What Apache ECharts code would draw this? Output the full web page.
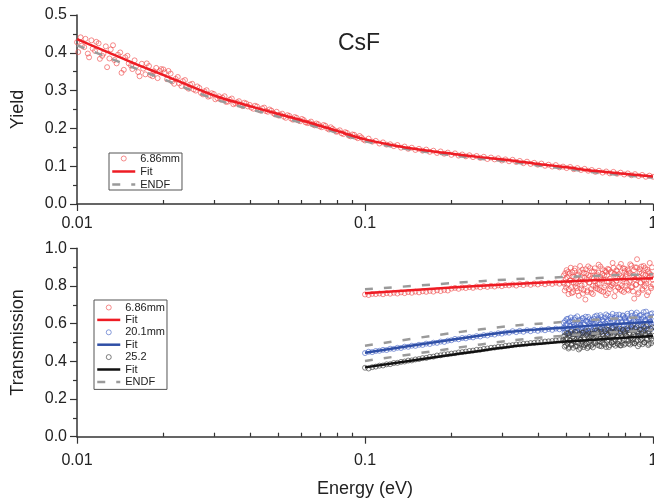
<!DOCTYPE html>
<html>
<head>
<meta charset="utf-8">
<script src="https://cdn.jsdelivr.net/npm/echarts@6/dist/echarts.min.js"></script>
<style>
  html, body { margin: 0; padding: 0; background: #fff; }
  #chart { width: 654px; height: 500px; }
</style>
</head>
<body>
<div id="chart"></div>
<script>
// ---- axis ticks ----
const energyTicks = [0.01, 0.1, 1];
const energyMinorTicks = [0.02, 0.03, 0.04, 0.05, 0.06, 0.07, 0.08, 0.09,
                          0.2, 0.3, 0.4, 0.5, 0.6, 0.7, 0.8, 0.9];

// log-spaced energy bins (n points from e0 to e1 inclusive)
function logBins(e0, e1, n) {
  const a = Math.log10(e0), b = Math.log10(e1);
  return Array.from({ length: n }, (_, i) => Math.pow(10, a + (b - a) * i / (n - 1)));
}

// ---- capture yield, 6.86 mm sample ----
const yieldEnergy = logBins(0.01, 1, 161);
const yieldMeasured = [
  0.428, 0.441, 0.415, 0.398, 0.433, 0.405, 0.425, 0.392,
  0.417, 0.385, 0.420, 0.372, 0.401, 0.355, 0.392, 0.366,
  0.380, 0.349, 0.371, 0.343, 0.365, 0.338, 0.360, 0.352,
  0.356, 0.330, 0.345, 0.318, 0.336, 0.312, 0.328, 0.305,
  0.318, 0.300, 0.307, 0.290, 0.301, 0.286, 0.291, 0.280,
  0.276, 0.285, 0.271, 0.279, 0.266, 0.272, 0.259, 0.266,
  0.262, 0.252, 0.258, 0.247, 0.255, 0.244, 0.247, 0.237,
  0.234, 0.239, 0.228, 0.233, 0.223, 0.228, 0.219, 0.222,
  0.214, 0.218, 0.208, 0.211, 0.203, 0.207, 0.197, 0.199,
  0.191, 0.195, 0.185, 0.188, 0.179, 0.183, 0.174, 0.176,
  0.168, 0.173, 0.165, 0.167, 0.160, 0.163, 0.157, 0.158,
  0.153, 0.156, 0.149, 0.152, 0.146, 0.149, 0.143, 0.146,
  0.141, 0.144, 0.138, 0.141, 0.135, 0.139, 0.133, 0.136,
  0.130, 0.134, 0.128, 0.131, 0.126, 0.129, 0.124, 0.127,
  0.122, 0.125, 0.119, 0.123, 0.118, 0.121, 0.115, 0.118,
  0.113, 0.117, 0.111, 0.114, 0.108, 0.112, 0.106, 0.109,
  0.104, 0.107, 0.101, 0.104, 0.099, 0.103, 0.097, 0.099,
  0.095, 0.098, 0.092, 0.095, 0.090, 0.093, 0.088, 0.090,
  0.085, 0.088, 0.083, 0.086, 0.081, 0.085, 0.080, 0.083,
  0.078, 0.081, 0.076, 0.079, 0.074, 0.077, 0.072, 0.075, 0.072
];
// interleaved bins below 0.1 eV (finer time-of-flight channels)
const yieldEnergyFine = logBins(0.0101, 0.0986, 80);
const yieldMeasuredFine = [
  0.402, 0.419, 0.437, 0.388, 0.411, 0.429, 0.384, 0.398,
  0.362, 0.409, 0.381, 0.395, 0.347, 0.388, 0.372, 0.357,
  0.364, 0.338, 0.358, 0.372, 0.341, 0.351, 0.333, 0.357,
  0.348, 0.352, 0.324, 0.331, 0.319, 0.325, 0.309, 0.316,
  0.303, 0.311, 0.294, 0.298, 0.284, 0.293, 0.277, 0.285,
  0.281, 0.270, 0.276, 0.264, 0.269, 0.263, 0.268, 0.258,
  0.255, 0.260, 0.250, 0.253, 0.246, 0.250, 0.241, 0.244,
  0.236, 0.231, 0.235, 0.226, 0.230, 0.221, 0.225, 0.216,
  0.215, 0.211, 0.213, 0.205, 0.209, 0.200, 0.203, 0.195,
  0.192, 0.187, 0.190, 0.181, 0.184, 0.177, 0.180, 0.171
];
const yieldCurveEnergy = [0.01, 0.0126, 0.0158, 0.02, 0.0251, 0.0316, 0.0398, 0.0501, 0.0631, 0.0794,
                          0.1, 0.126, 0.158, 0.2, 0.251, 0.316, 0.398, 0.501, 0.631, 0.794, 1.0];
const yieldFit  = [0.436, 0.404, 0.372, 0.341, 0.310, 0.281, 0.259, 0.238, 0.217, 0.194,
                   0.171, 0.155, 0.143, 0.133, 0.124, 0.116, 0.106, 0.097, 0.087, 0.080, 0.073];
const yieldEndf = [0.420, 0.390, 0.360, 0.330, 0.300, 0.272, 0.251, 0.231, 0.211, 0.189,
                   0.166, 0.151, 0.139, 0.129, 0.120, 0.112, 0.102, 0.093, 0.083, 0.076, 0.070];

// ---- transmission, three thicknesses ----
const transEnergyLow   = logBins(0.1, 0.487, 56);
const transEnergyHigh  = logBins(0.49, 1, 96);
const transEnergyHigh2 = logBins(0.4919, 0.9962, 96);

const trans686Low = [
  0.755, 0.752, 0.758, 0.757, 0.760, 0.756, 0.762, 0.759, 0.764, 0.760, 0.766, 0.762,
  0.768, 0.764, 0.770, 0.766, 0.772, 0.769, 0.774, 0.770, 0.777, 0.773, 0.779, 0.776,
  0.786, 0.790, 0.785, 0.792, 0.789, 0.794, 0.790, 0.797, 0.793, 0.799, 0.795, 0.801,
  0.797, 0.803, 0.799, 0.805,
  0.803, 0.808, 0.802, 0.810, 0.805, 0.812, 0.806, 0.813, 0.808, 0.815, 0.809, 0.816,
  0.811, 0.818, 0.812, 0.819
];
const trans686High = [
  0.856, 0.776, 0.838, 0.884, 0.807, 0.757, 0.866, 0.829, 0.794, 0.873, 0.767, 0.848,
  0.893, 0.815, 0.788, 0.857, 0.748, 0.874, 0.835, 0.803, 0.887, 0.778, 0.844, 0.728,
  0.865, 0.768, 0.904, 0.817, 0.853, 0.784, 0.878, 0.757,
  0.843, 0.894, 0.801, 0.853, 0.784, 0.871, 0.812, 0.903, 0.773, 0.864, 0.834, 0.792,
  0.881, 0.751, 0.856, 0.891, 0.823, 0.783, 0.874, 0.804, 0.922, 0.811, 0.865, 0.774,
  0.883, 0.842, 0.793, 0.901, 0.781, 0.853, 0.803, 0.894,
  0.768, 0.879, 0.849, 0.817, 0.887, 0.776, 0.869, 0.828, 0.908, 0.797, 0.858, 0.733,
  0.899, 0.807, 0.942, 0.757, 0.848, 0.889, 0.816, 0.868, 0.779, 0.906, 0.798, 0.859,
  0.827, 0.887, 0.767, 0.869, 0.849, 0.788, 0.899, 0.808
];
const trans686High2 = [
  0.812, 0.868, 0.791, 0.846, 0.874, 0.783, 0.829, 0.897, 0.762, 0.851, 0.818, 0.881,
  0.798, 0.839, 0.772, 0.862, 0.824, 0.906, 0.787, 0.845, 0.759, 0.871, 0.809, 0.889,
  0.831, 0.776, 0.858, 0.819, 0.895, 0.764, 0.842, 0.801,
  0.876, 0.826, 0.789, 0.862, 0.811, 0.913, 0.779, 0.848, 0.833, 0.889, 0.769, 0.857,
  0.802, 0.874, 0.822, 0.761, 0.886, 0.839, 0.797, 0.869, 0.815, 0.897, 0.745, 0.851,
  0.828, 0.878, 0.792, 0.863, 0.809, 0.917, 0.774, 0.846,
  0.836, 0.892, 0.801, 0.864, 0.782, 0.879, 0.822, 0.915, 0.793, 0.853, 0.771, 0.884,
  0.836, 0.806, 0.898, 0.842, 0.765, 0.874, 0.819, 0.903, 0.786, 0.861, 0.829, 0.895,
  0.813, 0.751, 0.877, 0.846, 0.922, 0.797, 0.858, 0.835
];
const trans201Low = [
  0.444, 0.451, 0.449, 0.455, 0.456, 0.461, 0.460, 0.467, 0.466, 0.472, 0.471, 0.478,
  0.477, 0.483, 0.482, 0.488, 0.487, 0.494, 0.492, 0.499, 0.498, 0.505, 0.503, 0.510,
  0.512, 0.519, 0.517, 0.524, 0.522, 0.529, 0.527, 0.534, 0.532, 0.539, 0.537, 0.544,
  0.542, 0.549, 0.547, 0.553,
  0.552, 0.560, 0.555, 0.562, 0.557, 0.565, 0.560, 0.567, 0.562, 0.569, 0.565, 0.572,
  0.567, 0.574, 0.570, 0.576
];
const trans201High = [
  0.605, 0.553, 0.593, 0.624, 0.571, 0.548, 0.612, 0.586, 0.562, 0.618, 0.545, 0.598,
  0.631, 0.578, 0.556, 0.607, 0.541, 0.620, 0.590, 0.566, 0.628, 0.552, 0.599, 0.564,
  0.614, 0.547, 0.636, 0.575, 0.604, 0.558, 0.621, 0.549,
  0.602, 0.638, 0.575, 0.611, 0.562, 0.629, 0.581, 0.645, 0.555, 0.620, 0.596, 0.568,
  0.633, 0.552, 0.612, 0.641, 0.590, 0.561, 0.627, 0.575, 0.652, 0.579, 0.619, 0.558,
  0.634, 0.603, 0.566, 0.648, 0.560, 0.611, 0.574, 0.640,
  0.562, 0.632, 0.613, 0.588, 0.640, 0.568, 0.626, 0.597, 0.658, 0.574, 0.617, 0.570,
  0.649, 0.581, 0.632, 0.556, 0.611, 0.643, 0.589, 0.624, 0.566, 0.661, 0.577, 0.619,
  0.596, 0.645, 0.561, 0.628, 0.610, 0.571, 0.655, 0.584
];
const trans201High2 = [
  0.579, 0.614, 0.562, 0.597, 0.626, 0.551, 0.589, 0.633, 0.568, 0.607, 0.585, 0.622,
  0.557, 0.596, 0.639, 0.573, 0.603, 0.548, 0.617, 0.582, 0.629, 0.561, 0.594, 0.637,
  0.571, 0.609, 0.554, 0.623, 0.588, 0.612, 0.566, 0.601,
  0.627, 0.574, 0.609, 0.643, 0.583, 0.618, 0.559, 0.597, 0.635, 0.576, 0.614, 0.566,
  0.602, 0.649, 0.587, 0.621, 0.553, 0.605, 0.638, 0.579, 0.615, 0.569, 0.631, 0.592,
  0.646, 0.573, 0.611, 0.586, 0.628, 0.562, 0.607, 0.644,
  0.591, 0.627, 0.572, 0.613, 0.653, 0.586, 0.621, 0.567, 0.604, 0.642, 0.594, 0.631,
  0.575, 0.616, 0.659, 0.589, 0.624, 0.569, 0.608, 0.647, 0.597, 0.635, 0.578, 0.619,
  0.664, 0.592, 0.629, 0.571, 0.612, 0.651, 0.599, 0.637
];
const trans252Low = [
  0.366, 0.362, 0.369, 0.372, 0.377, 0.378, 0.384, 0.385, 0.391, 0.392, 0.397, 0.399,
  0.404, 0.405, 0.410, 0.412, 0.417, 0.418, 0.424, 0.425, 0.431, 0.432, 0.437, 0.438,
  0.441, 0.443, 0.447, 0.449, 0.452, 0.455, 0.457, 0.461, 0.462, 0.466, 0.468, 0.472,
  0.473, 0.477, 0.478, 0.482,
  0.484, 0.486, 0.489, 0.490, 0.493, 0.494, 0.497, 0.498, 0.501, 0.502, 0.505, 0.506,
  0.508, 0.510, 0.512, 0.513
];
const trans252High = [
  0.532, 0.478, 0.518, 0.549, 0.494, 0.468, 0.539, 0.510, 0.486, 0.544, 0.472, 0.523,
  0.556, 0.501, 0.480, 0.533, 0.463, 0.546, 0.515, 0.490, 0.552, 0.476, 0.526, 0.488,
  0.541, 0.470, 0.562, 0.499, 0.530, 0.482, 0.547, 0.474,
  0.528, 0.563, 0.499, 0.536, 0.487, 0.555, 0.506, 0.571, 0.480, 0.545, 0.521, 0.493,
  0.559, 0.476, 0.538, 0.567, 0.514, 0.486, 0.553, 0.500, 0.578, 0.504, 0.545, 0.483,
  0.560, 0.528, 0.491, 0.574, 0.485, 0.537, 0.498, 0.566,
  0.488, 0.557, 0.538, 0.512, 0.565, 0.494, 0.551, 0.522, 0.583, 0.499, 0.542, 0.495,
  0.574, 0.506, 0.557, 0.480, 0.536, 0.568, 0.514, 0.549, 0.491, 0.586, 0.502, 0.544,
  0.521, 0.570, 0.486, 0.553, 0.535, 0.496, 0.580, 0.509
];
const trans252High2 = [
  0.503, 0.537, 0.484, 0.521, 0.549, 0.476, 0.512, 0.556, 0.491, 0.529, 0.508, 0.544,
  0.481, 0.518, 0.561, 0.497, 0.526, 0.471, 0.539, 0.505, 0.552, 0.486, 0.517, 0.559,
  0.494, 0.532, 0.478, 0.546, 0.511, 0.535, 0.489, 0.523,
  0.548, 0.497, 0.531, 0.565, 0.505, 0.541, 0.482, 0.519, 0.557, 0.499, 0.536, 0.488,
  0.524, 0.571, 0.509, 0.543, 0.476, 0.527, 0.560, 0.501, 0.537, 0.491, 0.553, 0.514,
  0.568, 0.495, 0.533, 0.508, 0.550, 0.484, 0.529, 0.566,
  0.513, 0.549, 0.494, 0.535, 0.575, 0.508, 0.543, 0.489, 0.526, 0.564, 0.516, 0.553,
  0.497, 0.538, 0.581, 0.511, 0.546, 0.491, 0.530, 0.569, 0.519, 0.557, 0.500, 0.541,
  0.586, 0.514, 0.551, 0.493, 0.534, 0.573, 0.521, 0.559
];

const transCurveEnergy = [0.1, 0.2, 0.32, 0.5, 0.7, 1.0];
const fit686  = [0.761, 0.792, 0.809, 0.824, 0.833, 0.841];
const fit201  = [0.446, 0.515, 0.557, 0.580, 0.596, 0.610];
const fit252  = [0.368, 0.435, 0.478, 0.505, 0.520, 0.535];
const endf686 = [0.782, 0.815, 0.835, 0.848, 0.856, 0.862];
const endf201 = [0.483, 0.550, 0.588, 0.610, 0.625, 0.637];
const endf252 = [0.402, 0.468, 0.510, 0.537, 0.552, 0.566];

// ---- styling ----
const FONT = '"Liberation Sans", Arial, sans-serif';
const AXIS_COLOR = '#333';
const TEXT_COLOR = '#222';
const RED = '#ee1c24', BLUE = '#2f4fa6', BLACK = '#111', GRAY = '#9a9a9a';
const RED_PT = '#f04a4a', BLUE_PT = '#4563c4', BLACK_PT = '#3a3a3a';

const pairs = (xs, ys) => xs.map((x, i) => [x, ys[i]]);

function scatter(name, axis, data, color) {
  return {
    type: 'scatter', name, xAxisIndex: axis, yAxisIndex: axis >> 1, data,
    symbol: 'circle', symbolSize: 5, silent: true,
    itemStyle: { color: 'rgba(255,255,255,0)', borderColor: color, borderWidth: 0.8 }
  };
}
function curve(name, axis, data, color, dashed) {
  return {
    type: 'line', name, xAxisIndex: axis, yAxisIndex: axis >> 1, data,
    symbol: 'none', showSymbol: false, smooth: 0.3, silent: true,
    itemStyle: { color },
    lineStyle: { color, width: 2.5, type: dashed ? [8, 11] : 'solid' }
  };
}

function energyAxis(grid, name, labelMargin) {
  return {
    gridIndex: grid, type: 'log', logBase: 10, min: 0.01, max: 1,
    name: name || '', nameLocation: 'middle', nameGap: 43, nameMoveOverlap: false,
    nameTextStyle: { fontFamily: FONT, fontSize: 18, color: TEXT_COLOR },
    axisLine: { show: true, onZero: false, lineStyle: { color: AXIS_COLOR, width: 1.5 } },
    axisTick: { show: true, customValues: energyTicks, length: 7, lineStyle: { color: AXIS_COLOR, width: 1.2 } },
    axisLabel: { show: true, customValues: energyTicks, margin: labelMargin, fontFamily: FONT, fontSize: 16, color: TEXT_COLOR,
                 formatter: v => String(+Number(v).toPrecision(1)) },
    splitLine: { show: false }, minorTick: { show: false }
  };
}
function energyMinorAxis(grid) {
  return {
    gridIndex: grid, type: 'log', logBase: 10, min: 0.01, max: 1,
    axisLine: { show: false },
    axisTick: { show: true, customValues: energyMinorTicks, length: 4, lineStyle: { color: AXIS_COLOR, width: 1.2 } },
    axisLabel: { show: false }, splitLine: { show: false }
  };
}
function valueAxis(grid, name, max, interval) {
  return {
    gridIndex: grid, type: 'value', min: 0, max, interval,
    name, nameLocation: 'middle', nameGap: 50, nameRotate: 90, nameMoveOverlap: false,
    nameTextStyle: { fontFamily: FONT, fontSize: 18, color: TEXT_COLOR },
    axisLine: { show: true, lineStyle: { color: AXIS_COLOR, width: 1.5 } },
    axisTick: { show: true, length: 7, lineStyle: { color: AXIS_COLOR, width: 1.2 } },
    minorTick: { show: true, splitNumber: 2, length: 4, lineStyle: { color: AXIS_COLOR, width: 1.2 } },
    axisLabel: { margin: 10, fontFamily: FONT, fontSize: 16, color: TEXT_COLOR, formatter: v => v.toFixed(1) },
    splitLine: { show: false }, minorSplitLine: { show: false }
  };
}

// line entries in the legends show only the stroke, no marker
const lineEntry = name => ({ name, itemStyle: { opacity: 0 } });

const legendBase = {
  orient: 'vertical', selectedMode: false,
  itemWidth: 23, itemHeight: 5, itemGap: 2,
  padding: [0, 2, 0, 2],
  borderColor: '#555', borderWidth: 1, borderRadius: 0, backgroundColor: '#fff',
  textStyle: { fontFamily: FONT, fontSize: 11, color: TEXT_COLOR, lineHeight: 10 },
  itemStyle: { borderWidth: 0.8 },
  lineStyle: { width: 2.5 },
  formatter: n => n.split('|')[1]
};

const chart = echarts.init(document.getElementById('chart'), null, { renderer: 'canvas' });
chart.setOption({
  animation: false,
  backgroundColor: '#fff',
  graphic: [{
    type: 'text', x: 359, y: 44,
    style: { text: 'CsF', font: '23px ' + FONT, fill: TEXT_COLOR, align: 'center', verticalAlign: 'middle' }
  }],
  grid: [
    { left: 77, right: 1, top: 15, height: 189, outerBoundsMode: 'none', containLabel: false },
    { left: 77, right: 1, top: 248.3, height: 188.4, outerBoundsMode: 'none', containLabel: false }
  ],
  xAxis: [energyAxis(0, '', 12), energyMinorAxis(0), energyAxis(1, 'Energy (eV)', 16), energyMinorAxis(1)],
  yAxis: [valueAxis(0, 'Yield', 0.5, 0.1), valueAxis(1, 'Transmission', 1.0, 0.2)],
  legend: [
    Object.assign({}, legendBase, { left: 109, top: 153,
      data: ['Y|6.86mm', lineEntry('Y|Fit'), lineEntry('Y|ENDF')] }),
    Object.assign({}, legendBase, { left: 94, top: 300, itemGap: 1.4, padding: [2, 2, 2, 2],
      data: ['T|6.86mm', lineEntry('T1|Fit'), 'T|20.1mm', lineEntry('T2|Fit'), 'T|25.2', lineEntry('T3|Fit'), lineEntry('T|ENDF')] })
  ],
  series: [
    scatter('Y|6.86mm', 0, pairs(yieldEnergy, yieldMeasured).concat(pairs(yieldEnergyFine, yieldMeasuredFine)), RED_PT),
    curve('Y|ENDF', 0, pairs(yieldCurveEnergy, yieldEndf), GRAY, true),
    curve('Y|Fit', 0, pairs(yieldCurveEnergy, yieldFit), RED, false),

    scatter('T|6.86mm', 2, pairs(transEnergyLow, trans686Low)
      .concat(pairs(transEnergyHigh, trans686High), pairs(transEnergyHigh2, trans686High2)), RED_PT),
    scatter('T|20.1mm', 2, pairs(transEnergyLow, trans201Low)
      .concat(pairs(transEnergyHigh, trans201High), pairs(transEnergyHigh2, trans201High2)), BLUE_PT),
    scatter('T|25.2', 2, pairs(transEnergyLow, trans252Low)
      .concat(pairs(transEnergyHigh, trans252High), pairs(transEnergyHigh2, trans252High2)), BLACK_PT),
    curve('T|ENDF', 2, pairs(transCurveEnergy, endf686), GRAY, true),
    curve('T|ENDF', 2, pairs(transCurveEnergy, endf201), GRAY, true),
    curve('T|ENDF', 2, pairs(transCurveEnergy, endf252), GRAY, true),
    curve('T1|Fit', 2, pairs(transCurveEnergy, fit686), RED, false),
    curve('T2|Fit', 2, pairs(transCurveEnergy, fit201), BLUE, false),
    curve('T3|Fit', 2, pairs(transCurveEnergy, fit252), BLACK, false)
  ]
});
</script>
</body>
</html>
